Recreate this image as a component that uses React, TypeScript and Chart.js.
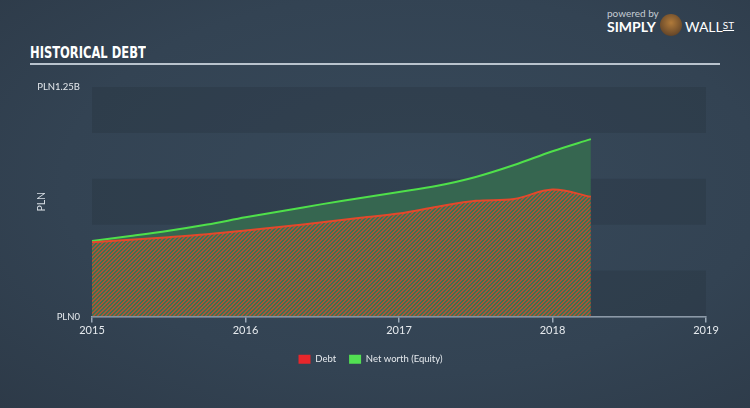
import React, { useEffect, useRef } from "react";
import { Chart, registerables } from "chart.js";

Chart.register(...registerables);

const years = [2015.0, 2015.25, 2015.5, 2015.75, 2016.0, 2016.25, 2016.5, 2016.75, 2017.0, 2017.25, 2017.5, 2017.75, 2018.0, 2018.25];
const debt = [0.404, 0.418, 0.432, 0.448, 0.468, 0.49, 0.513, 0.538, 0.561, 0.598, 0.63, 0.64, 0.692, 0.652];
const equity = [0.411, 0.438, 0.467, 0.501, 0.54, 0.576, 0.612, 0.646, 0.678, 0.712, 0.76, 0.825, 0.9, 0.966];
const yTickLabels: Record<number, string> = { 0: "PLN0", 1.25: "PLN1.25B" };
const xTicks = [2015, 2016, 2017, 2018, 2019];

const FONT = "Lato, 'Open Sans', sans-serif";

function makePattern(ctx: CanvasRenderingContext2D) {
  const c = document.createElement("canvas");
  c.width = 4;
  c.height = 4;
  const t = c.getContext("2d")!;
  for (let x = 0; x < 4; x++) {
    for (let y = 0; y < 4; y++) {
      t.fillStyle = (x + y) % 4 < 2 ? "#a95436" : "#3c7352";
      t.fillRect(x, y, 1, 1);
    }
  }
  return ctx.createPattern(c, "repeat")!;
}

const bandsPlugin = {
  id: "bands",
  beforeDatasetsDraw(chart: any) {
    const { ctx, chartArea, scales } = chart;
    const y = scales.y;
    ctx.save();
    ctx.fillStyle = "rgba(30,40,52,0.22)";
    for (const [a, b] of [[0, 0.25], [0.5, 0.75], [1.0, 1.25]]) {
      const top = y.getPixelForValue(b);
      const bot = y.getPixelForValue(a);
      ctx.fillRect(chartArea.left, top, chartArea.right - chartArea.left, bot - top);
    }
    ctx.restore();
  },
};

export default function App() {
  const ref = useRef<HTMLCanvasElement>(null);
  useEffect(() => {
    const canvas = ref.current!;
    const ctx = canvas.getContext("2d")!;
    const pattern = makePattern(ctx);
    const chart = new Chart(canvas, {
      type: "line",
      data: {
        datasets: [
          {
            label: "Debt",
            data: years.map((x, i) => ({ x, y: debt[i] })),
            borderColor: "#e2492c",
            backgroundColor: pattern,
            borderWidth: 2,
            pointRadius: 0,
            tension: 0.35,
            fill: "origin",
          },
          {
            label: "Net worth (Equity)",
            data: years.map((x, i) => ({ x, y: equity[i] })),
            borderColor: "#4fe04a",
            backgroundColor: "#366650",
            borderWidth: 2,
            pointRadius: 0,
            tension: 0.35,
            fill: "-1",
          },
        ],
      },
      options: {
        animation: false,
        responsive: false,
        layout: { padding: { left: 35, right: 44, top: 87, bottom: 34 } },
        plugins: {
          tooltip: { enabled: false },
          legend: {
            position: "bottom",
            labels: {
              color: "#e6eaee",
              font: { family: FONT, size: 9.5 },
              boxWidth: 12,
              boxHeight: 9,
              padding: 13,
              generateLabels: (ch: any) =>
                Chart.defaults.plugins.legend.labels.generateLabels(ch).map((l: any, i: number) => ({
                  ...l,
                  fillStyle: i === 0 ? "#e8262b" : "#52e052",
                  strokeStyle: i === 0 ? "#e8262b" : "#52e052",
                  lineWidth: 0,
                })),
            },
          },
        },
        scales: {
          x: {
            type: "linear",
            min: 2015,
            max: 2019,
            afterBuildTicks: (s: any) => {
              s.ticks = xTicks.map((v) => ({ value: v }));
            },
            afterFit: (s: any) => {
              s.height = 25;
            },
            ticks: {
              color: "#e6eaee",
              font: { family: FONT, size: 11 },
              padding: 1,
              maxRotation: 0,
              callback: (v: any) => String(v),
            },
            grid: { drawOnChartArea: false, drawTicks: true, tickLength: 6, color: "#9aa8b6", lineWidth: 1.5 },
            border: { display: true, color: "#9aa8b6", width: 1.5 },
          },
          y: {
            min: 0,
            max: 1.25,
            afterBuildTicks: (s: any) => {
              s.ticks = [0, 0.25, 0.5, 0.75, 1.0, 1.25].map((v) => ({ value: v }));
            },
            afterFit: (s: any) => {
              s.width = 57;
            },
            ticks: {
              color: "#e6eaee",
              font: { family: FONT, size: 9.5 },
              padding: 12,
              callback: (v: any) => yTickLabels[v as number] ?? "",
            },
            title: {
              display: true,
              text: "PLN",
              color: "#d8dee4",
              font: { family: FONT, size: 10.5 },
              padding: 0,
            },
            grid: { display: false, drawTicks: false },
            border: { display: false },
          },
        },
      },
      plugins: [bandsPlugin],
    });
    return () => chart.destroy();
  }, []);

  return (
    <div
      style={{
        position: "absolute",
        left: 0,
        top: 0,
        width: 750,
        height: 408,
        overflow: "hidden",
        background: "radial-gradient(ellipse at 55% 45%, #37495a 0%, #334353 60%, #2d3a48 100%)",
        fontFamily: FONT,
      }}
    >
      <div
        style={{
          position: "absolute",
          left: 30,
          top: 43,
          fontFamily: "'Liberation Sans Narrow', 'DejaVu Sans Condensed', sans-serif",
          fontWeight: 700,
          fontSize: 16,
          color: "#ffffff",
          transform: "scaleX(0.8)",
          transformOrigin: "left top",
          whiteSpace: "nowrap",
        }}
      >
        HISTORICAL DEBT
      </div>
      <div style={{ position: "absolute", left: 30, top: 63, width: 690, height: 2, background: "#b9c3cd" }} />
      <div style={{ position: "absolute", left: 607, top: 7, fontSize: 10, color: "#c5ccd3" }}>powered by</div>
      <div style={{ position: "absolute", left: 607, top: 18, fontSize: 14, fontWeight: 700, color: "#ffffff" }}>
        SIMPLY
      </div>
      <div
        style={{
          position: "absolute",
          left: 660,
          top: 14,
          width: 22,
          height: 22,
          borderRadius: 11,
          background: "radial-gradient(circle at 50% 40%, #b07a3a 0%, #6b4a2a 70%, #2a2a2a 100%)",
        }}
      />
      <div style={{ position: "absolute", left: 685, top: 18, fontSize: 14, color: "#ffffff" }}>
        WALL<span style={{ fontSize: 10, textDecoration: "underline", verticalAlign: "3px" }}>ST</span>
      </div>
      <canvas ref={ref} width={750} height={408} style={{ position: "absolute", left: 0, top: 0 }} />
    </div>
  );
}
